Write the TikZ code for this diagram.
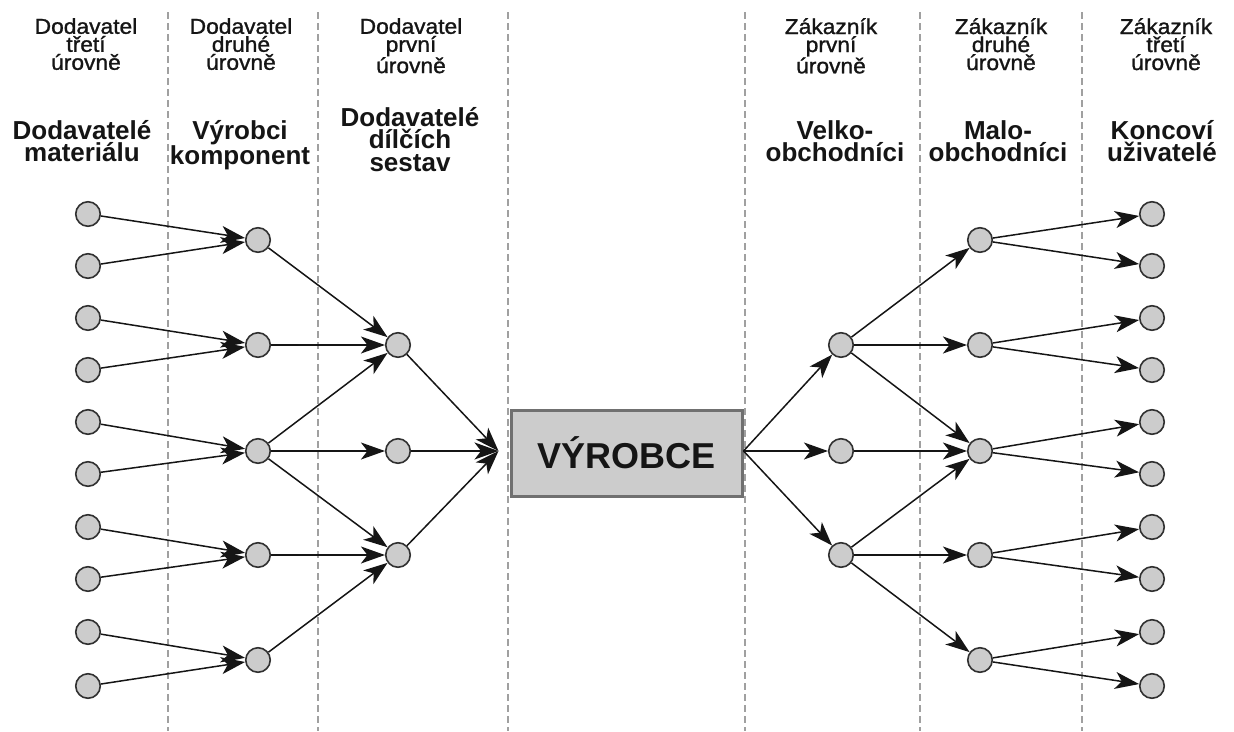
\documentclass[tikz,border=0pt]{standalone}
\usepackage{fontspec}
\setmainfont{Liberation Sans}
\newfontfamily\tierfont[FakeStretch=1.06,FakeBold=1.2]{Liberation Sans}
\usetikzlibrary{arrows.meta}

\definecolor{dotfill}{HTML}{CCCCCC}
\definecolor{dotline}{HTML}{303030}
\definecolor{divgray}{HTML}{A0A0A0}
\definecolor{boxline}{HTML}{707070}
\definecolor{ink}{HTML}{151515}

\begin{document}
\begin{tikzpicture}[x=1pt, y=-1pt,
  dot/.style={circle, draw=dotline, fill=dotfill, line width=1.6pt,
              minimum size=24.5pt, inner sep=0pt},
  flow/.style={-{Stealth[length=24pt, width=17pt, inset=6.5pt]},
               line width=1.5pt, draw=ink},
  divider/.style={draw=divgray, line width=1.6pt, dash pattern=on 7pt off 4pt},
  tier/.style={align=center, anchor=north, inner sep=0pt, text=ink,
               font=\tierfont\fontsize{21.5}{18}\selectfont},
  role/.style={align=center, anchor=north, inner sep=0pt, text=ink,
               font=\bfseries\fontsize{26}{22.5}\selectfont},
  maker/.style={rectangle, draw=boxline, fill=dotfill, line width=3pt,
                minimum width=231pt, minimum height=86pt, inner sep=0pt,
                text=ink, font=\bfseries\fontsize{36}{40}\selectfont}
]
\useasboundingbox (0,0) rectangle (1234,731);

% column dividers
\foreach \x in {168,318,508,745,920,1082}
  \draw[divider] (\x,12) -- (\x,731);

% tier captions
\node[tier] (t1) at (86,18)   {Dodavatel\\třetí\\úrovně};
\node[tier] (t2) at (241,18)  {Dodavatel\\druhé\\úrovně};
\node[tier] (t3) at (411,18)  {Dodavatel\\první\\úrovně};
\node[tier] (t4) at (831,18)  {Zákazník\\první\\úrovně};
\node[tier] (t5) at (1001,18) {Zákazník\\druhé\\úrovně};
\node[tier] (t6) at (1166,18) {Zákazník\\třetí\\úrovně};

% role captions
\node[role] (r1) at (82,120)   {Dodavatelé\\materiálu};
\node[role] (r2) at (240,120)  {Výrobci\\komponent};
\node[role] (r3) at (410,107)  {Dodavatelé\\dílčích\\sestav};
\node[role] (r4) at (835,120)  {Velko-\\obchodníci};
\node[role] (r5) at (998,120)  {Malo-\\obchodníci};
\node[role] (r6) at (1162,120) {Koncoví\\uživatelé};

% supply side nodes
\foreach \y [count=\i] in {214,266,318,370,422,474,527,579,632,686}
  \node[dot] (a\i) at (88,\y) {};
\foreach \y [count=\i] in {240,345,451,555,660}
  \node[dot] (b\i) at (258,\y) {};
\foreach \y [count=\i] in {345,451,555}
  \node[dot] (c\i) at (398,\y) {};

% demand side nodes
\foreach \y [count=\i] in {345,451,555}
  \node[dot] (d\i) at (841,\y) {};
\foreach \y [count=\i] in {240,345,451,555,660}
  \node[dot] (e\i) at (980,\y) {};
\foreach \y [count=\i] in {214,266,318,370,422,474,527,579,632,686}
  \node[dot] (f\i) at (1152,\y) {};

% manufacturer, with the points where the flows meet it
\node[maker] (box) at (626.5,453) {VÝROBCE};
\path (box.west |- c2) ++(-11pt,0) coordinate (boxin);
\path (box.east |- d2) coordinate (boxout);

% supply flows
\foreach \i/\j in {1/1,2/1,3/2,4/2,5/3,6/3,7/4,8/4,9/5,10/5}
  \draw[flow] (a\i) -- (b\j);
\foreach \i/\j in {1/1,2/1,3/1,3/2,3/3,4/3,5/3}
  \draw[flow] (b\i) -- (c\j);
\foreach \i in {1,2,3}
  \draw[flow] (c\i) -- (boxin);

% distribution flows
\foreach \i in {1,2,3}
  \draw[flow] (boxout) -- (d\i);
\foreach \i/\j in {1/1,1/2,1/3,2/3,3/3,3/4,3/5}
  \draw[flow] (d\i) -- (e\j);
\foreach \i/\j in {1/1,1/2,2/3,2/4,3/5,3/6,4/7,4/8,5/9,5/10}
  \draw[flow] (e\i) -- (f\j);
\end{tikzpicture}
\end{document}
